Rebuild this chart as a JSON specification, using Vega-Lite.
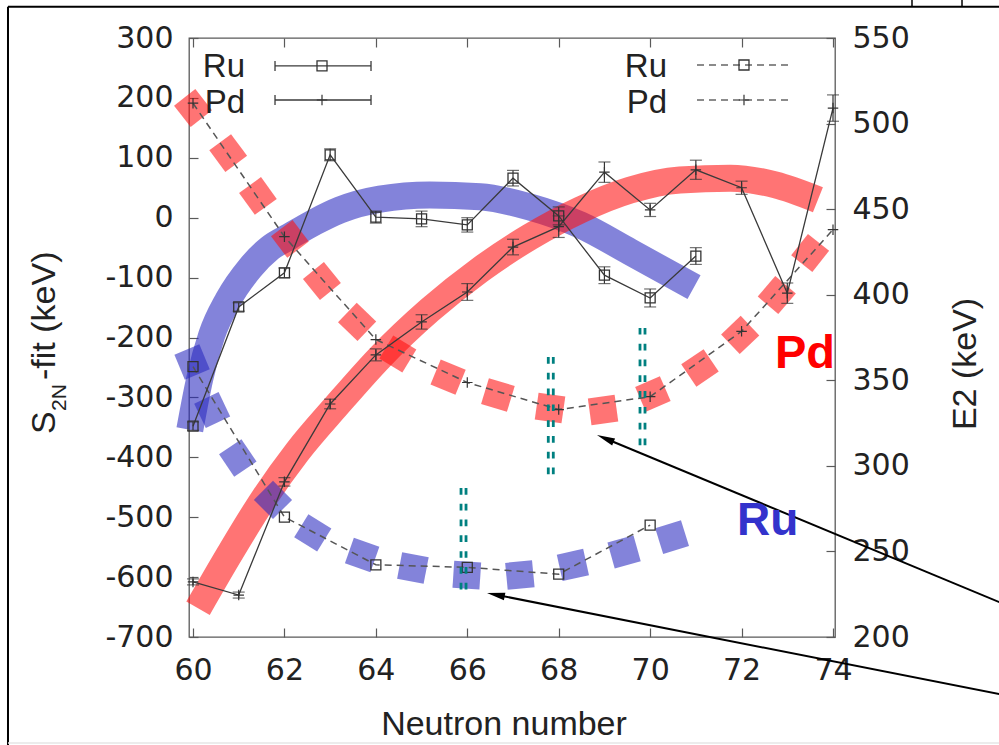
{
  "$schema": "https://vega.github.io/schema/vega-lite/v6.json",
  "width": 646,
  "height": 599,
  "autosize": {"type": "none"},
  "padding": {"left": 189, "top": 38, "right": 164, "bottom": 108},
  "background": "white",
  "config": {
    "view": {"stroke": "#5a5a5a", "strokeWidth": 1.3},
    "axis": {"grid": false, "domain": false, "tickColor": "#5a5a5a", "tickWidth": 1.2, "tickSize": -9, "labelFont": "DejaVu Sans", "labelFontSize": 30, "labelColor": "#222222", "labelFlush": false, "labelOverlap": false}
  },
  "data": {"values": [{}]},
  "datasets": {
    "s2n": [
      {"iso": "Ru", "N": 60, "S2N": -348, "err": 7},
      {"iso": "Ru", "N": 61, "S2N": -149, "err": 7},
      {"iso": "Ru", "N": 62, "S2N": -92, "err": 8},
      {"iso": "Ru", "N": 63, "S2N": 105, "err": 10},
      {"iso": "Ru", "N": 64, "S2N": 1, "err": 10},
      {"iso": "Ru", "N": 65, "S2N": -2, "err": 13},
      {"iso": "Ru", "N": 66, "S2N": -12, "err": 12},
      {"iso": "Ru", "N": 67, "S2N": 66, "err": 13},
      {"iso": "Ru", "N": 68, "S2N": 3, "err": 15},
      {"iso": "Ru", "N": 69, "S2N": -96, "err": 14},
      {"iso": "Ru", "N": 70, "S2N": -134, "err": 15},
      {"iso": "Ru", "N": 71, "S2N": -64, "err": 14},
      {"iso": "Pd", "N": 60, "S2N": -608, "err": 5},
      {"iso": "Pd", "N": 61, "S2N": -630, "err": 5},
      {"iso": "Pd", "N": 62, "S2N": -441, "err": 7},
      {"iso": "Pd", "N": 63, "S2N": -311, "err": 8},
      {"iso": "Pd", "N": 64, "S2N": -229, "err": 10},
      {"iso": "Pd", "N": 65, "S2N": -174, "err": 12},
      {"iso": "Pd", "N": 66, "S2N": -124, "err": 14},
      {"iso": "Pd", "N": 67, "S2N": -49, "err": 13},
      {"iso": "Pd", "N": 68, "S2N": -15, "err": 18},
      {"iso": "Pd", "N": 69, "S2N": 76, "err": 17},
      {"iso": "Pd", "N": 70, "S2N": 13, "err": 11},
      {"iso": "Pd", "N": 71, "S2N": 80, "err": 16},
      {"iso": "Pd", "N": 72, "S2N": 50, "err": 11},
      {"iso": "Pd", "N": 73, "S2N": -126, "err": 17},
      {"iso": "Pd", "N": 74, "S2N": 183, "err": 22}
    ],
    "e2": [
      {"iso": "Ru", "N": 60, "E2": 358.0},
      {"iso": "Ru", "N": 62, "E2": 270.1},
      {"iso": "Ru", "N": 64, "E2": 242.2},
      {"iso": "Ru", "N": 66, "E2": 240.7},
      {"iso": "Ru", "N": 68, "E2": 236.7},
      {"iso": "Ru", "N": 70, "E2": 265.4},
      {"iso": "Pd", "N": 60, "E2": 511.9},
      {"iso": "Pd", "N": 62, "E2": 433.9},
      {"iso": "Pd", "N": 64, "E2": 373.8},
      {"iso": "Pd", "N": 66, "E2": 348.7},
      {"iso": "Pd", "N": 68, "E2": 332.9},
      {"iso": "Pd", "N": 70, "E2": 340.4},
      {"iso": "Pd", "N": 72, "E2": 378.6},
      {"iso": "Pd", "N": 74, "E2": 438.0}
    ],
    "fits": [
      {"iso": "Ru", "N": 59.93, "S2N": -354},
      {"iso": "Ru", "N": 60.15, "S2N": -268},
      {"iso": "Ru", "N": 60.41, "S2N": -196},
      {"iso": "Ru", "N": 60.77, "S2N": -137},
      {"iso": "Ru", "N": 61.25, "S2N": -84},
      {"iso": "Ru", "N": 61.68, "S2N": -51},
      {"iso": "Ru", "N": 62.12, "S2N": -31},
      {"iso": "Ru", "N": 62.67, "S2N": -7},
      {"iso": "Ru", "N": 63.22, "S2N": 13},
      {"iso": "Ru", "N": 64.09, "S2N": 31},
      {"iso": "Ru", "N": 65.18, "S2N": 38},
      {"iso": "Ru", "N": 66.28, "S2N": 35},
      {"iso": "Ru", "N": 67.37, "S2N": 18},
      {"iso": "Ru", "N": 68.47, "S2N": -12},
      {"iso": "Ru", "N": 69.56, "S2N": -57},
      {"iso": "Ru", "N": 70.96, "S2N": -116},
      {"iso": "Pd", "N": 60.11, "S2N": -652},
      {"iso": "Pd", "N": 60.81, "S2N": -560},
      {"iso": "Pd", "N": 61.53, "S2N": -471},
      {"iso": "Pd", "N": 62.28, "S2N": -391},
      {"iso": "Pd", "N": 63.15, "S2N": -313},
      {"iso": "Pd", "N": 64.09, "S2N": -233},
      {"iso": "Pd", "N": 65.18, "S2N": -154},
      {"iso": "Pd", "N": 66.28, "S2N": -87},
      {"iso": "Pd", "N": 67.37, "S2N": -32},
      {"iso": "Pd", "N": 68.47, "S2N": 13},
      {"iso": "Pd", "N": 69.56, "S2N": 46},
      {"iso": "Pd", "N": 70.65, "S2N": 63},
      {"iso": "Pd", "N": 71.75, "S2N": 66},
      {"iso": "Pd", "N": 72.73, "S2N": 55},
      {"iso": "Pd", "N": 73.67, "S2N": 30}
    ],
    "e2fit": [
      {"iso": "Ru", "N": 59.98, "E2": 360.7},
      {"iso": "Ru", "N": 60.42, "E2": 332.6},
      {"iso": "Ru", "N": 60.98, "E2": 304.6},
      {"iso": "Ru", "N": 61.75, "E2": 280.1},
      {"iso": "Ru", "N": 62.62, "E2": 260.8},
      {"iso": "Ru", "N": 63.70, "E2": 247.9},
      {"iso": "Ru", "N": 64.81, "E2": 240.3},
      {"iso": "Ru", "N": 65.99, "E2": 236.2},
      {"iso": "Ru", "N": 67.15, "E2": 236.2},
      {"iso": "Ru", "N": 68.31, "E2": 242.1},
      {"iso": "Ru", "N": 69.43, "E2": 249.7},
      {"iso": "Ru", "N": 70.48, "E2": 258.4},
      {"iso": "Pd", "N": 60.00, "E2": 509.1},
      {"iso": "Pd", "N": 60.77, "E2": 482.8},
      {"iso": "Pd", "N": 61.42, "E2": 457.7},
      {"iso": "Pd", "N": 62.12, "E2": 432.6},
      {"iso": "Pd", "N": 62.82, "E2": 408.0},
      {"iso": "Pd", "N": 63.59, "E2": 384.1},
      {"iso": "Pd", "N": 64.48, "E2": 365.4},
      {"iso": "Pd", "N": 65.58, "E2": 351.9},
      {"iso": "Pd", "N": 66.67, "E2": 341.4},
      {"iso": "Pd", "N": 67.81, "E2": 333.8},
      {"iso": "Pd", "N": 68.97, "E2": 332.6},
      {"iso": "Pd", "N": 70.06, "E2": 342.0},
      {"iso": "Pd", "N": 71.09, "E2": 357.2},
      {"iso": "Pd", "N": 71.97, "E2": 376.5},
      {"iso": "Pd", "N": 72.77, "E2": 399.8},
      {"iso": "Pd", "N": 73.50, "E2": 424.4}
    ],
    "guides": [
      {"N": 65.863, "top": 287.1, "bottom": 226.9},
      {"N": 67.772, "top": 363.6, "bottom": 293.5},
      {"N": 69.778, "top": 380.6, "bottom": 310.4}
    ]
  },
  "resolve": {"scale": {"y": "independent"}, "axis": {"x": "independent", "y": "independent"}},
  "layer": [
    {
      "data": {"name": "fits"},
      "mark": {"type": "line", "strokeWidth": 27, "strokeOpacity": 0.58, "strokeCap": "butt", "interpolate": "monotone"},
      "encoding": {
        "x": {"field": "N", "type": "quantitative", "scale": {"domain": [59.9125, 74.0437], "nice": false, "zero": false},
              "axis": {"orient": "bottom", "values": [60, 62, 64, 66, 68, 70, 72, 74], "title": null, "labelPadding": 27, "labelExpr": "datum.value + ''"}},
        "y": {"field": "S2N", "type": "quantitative", "scale": {"domain": [-700, 300], "nice": false, "zero": false},
              "axis": {"orient": "left", "values": [-700, -600, -500, -400, -300, -200, -100, 0, 100, 200, 300], "title": null, "labelPadding": 25, "labelExpr": "datum.value + ''"}},
        "color": {"field": "iso", "type": "nominal", "scale": {"domain": ["Ru", "Pd"], "range": ["#2a2ac0", "#ff1010"]}, "legend": null},
        "detail": {"field": "iso"}
      }
    },
    {
      "data": {"name": "e2fit"},
      "transform": [
        {"window": [
          {"op": "lag", "field": "N", "as": "Np"},
          {"op": "lead", "field": "N", "as": "Nn"},
          {"op": "lag", "field": "E2", "as": "Ep"},
          {"op": "lead", "field": "E2", "as": "En"}
        ], "groupby": ["iso"], "sort": [{"field": "N"}]},
        {"calculate": "atan2(-((isValid(datum.En) ? datum.En : datum.E2) - (isValid(datum.Ep) ? datum.Ep : datum.E2)) * 1.7114, ((isValid(datum.Nn) ? datum.Nn : datum.N) - (isValid(datum.Np) ? datum.Np : datum.N)) * 45.714) * 180 / PI", "as": "tilt"}
      ],
      "mark": {"type": "point", "shape": "square", "filled": true, "opacity": 0.58, "size": 729, "strokeWidth": 0},
      "encoding": {
        "x": {"field": "N", "type": "quantitative", "scale": {"domain": [59.9125, 74.0437], "nice": false, "zero": false},
              "axis": {"orient": "top", "values": [60, 62, 64, 66, 68, 70, 72, 74], "title": null, "labels": false}},
        "y": {"field": "E2", "type": "quantitative", "scale": {"domain": [200, 550], "nice": false, "zero": false},
              "axis": {"orient": "right", "values": [200, 250, 300, 350, 400, 450, 500, 550], "title": null, "labelPadding": 26}},
        "color": {"field": "iso", "type": "nominal", "scale": {"domain": ["Ru", "Pd"], "range": ["#2a2ac0", "#ff1010"]}, "legend": null},
        "angle": {"field": "tilt", "type": "quantitative", "scale": null}
      }
    },
    {
      "data": {"name": "e2"},
      "mark": {"type": "line", "color": "#555555", "strokeWidth": 1.5, "strokeDash": [7, 5]},
      "encoding": {
        "x": {"field": "N", "type": "quantitative", "scale": {"domain": [59.9125, 74.0437], "nice": false, "zero": false}, "axis": null},
        "y": {"field": "E2", "type": "quantitative", "scale": {"domain": [200, 550], "nice": false, "zero": false}, "axis": null},
        "detail": {"field": "iso"}
      }
    },
    {
      "data": {"name": "e2"},
      "transform": [{"filter": "datum.iso === 'Ru'"}],
      "mark": {"type": "point", "shape": "square", "filled": false, "size": 100, "color": "#333333", "strokeWidth": 1.3, "opacity": 1},
      "encoding": {
        "x": {"field": "N", "type": "quantitative", "scale": {"domain": [59.9125, 74.0437], "nice": false, "zero": false}, "axis": null},
        "y": {"field": "E2", "type": "quantitative", "scale": {"domain": [200, 550], "nice": false, "zero": false}, "axis": null}
      }
    },
    {
      "data": {"name": "e2"},
      "transform": [{"filter": "datum.iso === 'Pd'"}],
      "mark": {"type": "point", "shape": "M-1,0L1,0M0,-1L0,1", "filled": false, "size": 110, "color": "#333333", "strokeWidth": 1.2, "opacity": 1},
      "encoding": {
        "x": {"field": "N", "type": "quantitative", "scale": {"domain": [59.9125, 74.0437], "nice": false, "zero": false}, "axis": null},
        "y": {"field": "E2", "type": "quantitative", "scale": {"domain": [200, 550], "nice": false, "zero": false}, "axis": null}
      }
    },
    {
      "data": {"name": "guides"},
      "mark": {"type": "rule", "color": "#008080", "strokeWidth": 2.8, "strokeDash": [6.7, 9.1]},
      "encoding": {
        "x": {"field": "N", "type": "quantitative", "scale": {"domain": [59.9125, 74.0437], "nice": false, "zero": false}, "axis": null},
        "y": {"field": "top", "type": "quantitative", "scale": {"domain": [200, 550], "nice": false, "zero": false}, "axis": null},
        "y2": {"field": "bottom"}
      }
    },
    {
      "data": {"name": "guides"},
      "mark": {"type": "rule", "color": "#008080", "strokeWidth": 2.8, "strokeDash": [6.7, 9.1], "xOffset": 5},
      "encoding": {
        "x": {"field": "N", "type": "quantitative", "scale": {"domain": [59.9125, 74.0437], "nice": false, "zero": false}, "axis": null},
        "y": {"field": "top", "type": "quantitative", "scale": {"domain": [200, 550], "nice": false, "zero": false}, "axis": null},
        "y2": {"field": "bottom"}
      }
    },
    {
      "data": {"name": "s2n"},
      "mark": {"type": "line", "color": "#3a3a3a", "strokeWidth": 1.3},
      "encoding": {
        "x": {"field": "N", "type": "quantitative", "scale": {"domain": [59.9125, 74.0437], "nice": false, "zero": false}, "axis": null},
        "y": {"field": "S2N", "type": "quantitative", "scale": {"domain": [-700, 300], "nice": false, "zero": false}, "axis": null},
        "detail": {"field": "iso"}
      }
    },
    {
      "data": {"name": "s2n"},
      "mark": {"type": "errorbar", "ticks": true, "size": 12, "thickness": 1.2, "color": "#333333"},
      "encoding": {
        "x": {"field": "N", "type": "quantitative", "scale": {"domain": [59.9125, 74.0437], "nice": false, "zero": false}, "axis": null},
        "y": {"field": "S2N", "type": "quantitative", "scale": {"domain": [-700, 300], "nice": false, "zero": false}, "axis": null},
        "yError": {"field": "err"}
      }
    },
    {
      "data": {"name": "s2n"},
      "transform": [{"filter": "datum.iso === 'Ru'"}],
      "mark": {"type": "point", "shape": "square", "filled": false, "size": 100, "color": "#333333", "strokeWidth": 1.3, "opacity": 1},
      "encoding": {
        "x": {"field": "N", "type": "quantitative", "scale": {"domain": [59.9125, 74.0437], "nice": false, "zero": false}, "axis": null},
        "y": {"field": "S2N", "type": "quantitative", "scale": {"domain": [-700, 300], "nice": false, "zero": false}, "axis": null}
      }
    },
    {
      "data": {"name": "s2n"},
      "transform": [{"filter": "datum.iso === 'Pd'"}],
      "mark": {"type": "point", "shape": "M-1,0L1,0M0,-1L0,1", "filled": false, "size": 110, "color": "#333333", "strokeWidth": 1.2, "opacity": 1},
      "encoding": {
        "x": {"field": "N", "type": "quantitative", "scale": {"domain": [59.9125, 74.0437], "nice": false, "zero": false}, "axis": null},
        "y": {"field": "S2N", "type": "quantitative", "scale": {"domain": [-700, 300], "nice": false, "zero": false}, "axis": null}
      }
    },
    {
      "mark": {"type": "rule", "color": "#000000", "strokeWidth": 2},
      "encoding": {
        "x": {"datum": 77.763, "type": "quantitative", "scale": {"domain": [59.9125, 74.0437], "nice": false, "zero": false}, "axis": null},
        "y": {"datum": -645.7, "type": "quantitative", "scale": {"domain": [-700, 300], "nice": false, "zero": false}, "axis": null},
        "x2": {"datum": 69.019}, "y2": {"datum": -368.6}
      }
    },
    {
      "mark": {"type": "rule", "color": "#000000", "strokeWidth": 2},
      "encoding": {
        "x": {"datum": 77.763, "type": "quantitative", "scale": {"domain": [59.9125, 74.0437], "nice": false, "zero": false}, "axis": null},
        "y": {"datum": -797.2, "type": "quantitative", "scale": {"domain": [-700, 300], "nice": false, "zero": false}, "axis": null},
        "x2": {"datum": 66.624}, "y2": {"datum": -629.4}
      }
    },
    {
      "mark": {"type": "point", "shape": "M0,-1L0.42,1L-0.42,1Z", "filled": true, "color": "#000000", "opacity": 1, "size": 324, "angle": 292.6},
      "encoding": {
        "x": {"datum": 69.019, "type": "quantitative", "scale": {"domain": [59.9125, 74.0437], "nice": false, "zero": false}, "axis": null},
        "y": {"datum": -368.6, "type": "quantitative", "scale": {"domain": [-700, 300], "nice": false, "zero": false}, "axis": null}
      }
    },
    {
      "mark": {"type": "point", "shape": "M0,-1L0.42,1L-0.42,1Z", "filled": true, "color": "#000000", "opacity": 1, "size": 324, "angle": 281.2},
      "encoding": {
        "x": {"datum": 66.624, "type": "quantitative", "scale": {"domain": [59.9125, 74.0437], "nice": false, "zero": false}, "axis": null},
        "y": {"datum": -629.4, "type": "quantitative", "scale": {"domain": [-700, 300], "nice": false, "zero": false}, "axis": null}
      }
    },
    {
      "mark": {"type": "text", "text": "Pd", "font": "Liberation Sans", "fontSize": 47, "fontWeight": "bold", "color": "#ff0000", "align": "left", "baseline": "alphabetic"},
      "encoding": {
        "x": {"datum": 72.731, "type": "quantitative", "scale": {"domain": [59.9125, 74.0437], "nice": false, "zero": false}, "axis": null},
        "y": {"datum": -250.9, "type": "quantitative", "scale": {"domain": [-700, 300], "nice": false, "zero": false}, "axis": null}
      }
    },
    {
      "mark": {"type": "text", "text": "Ru", "font": "Liberation Sans", "fontSize": 46, "fontWeight": "bold", "color": "#3333cc", "align": "left", "baseline": "alphabetic"},
      "encoding": {
        "x": {"datum": 71.9, "type": "quantitative", "scale": {"domain": [59.9125, 74.0437], "nice": false, "zero": false}, "axis": null},
        "y": {"datum": -529.7, "type": "quantitative", "scale": {"domain": [-700, 300], "nice": false, "zero": false}, "axis": null}
      }
    },
    {
      "mark": {"type": "text", "text": "Neutron number", "font": "Liberation Sans", "fontSize": 34, "color": "#222222", "align": "center", "baseline": "alphabetic"},
      "encoding": {
        "x": {"datum": 66.803, "type": "quantitative", "scale": {"domain": [59.9125, 74.0437], "nice": false, "zero": false}, "axis": null},
        "y": {"datum": -863.6, "type": "quantitative", "scale": {"domain": [-700, 300], "nice": false, "zero": false}, "axis": null}
      }
    },
    {
      "mark": {"type": "text", "text": "E2 (keV)", "font": "Liberation Sans", "fontSize": 34, "color": "#222222", "align": "center", "baseline": "alphabetic", "angle": 270},
      "encoding": {
        "x": {"datum": 77.128, "type": "quantitative", "scale": {"domain": [59.9125, 74.0437], "nice": false, "zero": false}, "axis": null},
        "y": {"datum": -244.2, "type": "quantitative", "scale": {"domain": [-700, 300], "nice": false, "zero": false}, "axis": null}
      }
    },
    {
      "mark": {"type": "text", "text": "S", "font": "Liberation Sans", "fontSize": 34, "color": "#222222", "align": "left", "baseline": "alphabetic", "angle": 270},
      "encoding": {
        "x": {"datum": 56.981, "type": "quantitative", "scale": {"domain": [59.9125, 74.0437], "nice": false, "zero": false}, "axis": null},
        "y": {"datum": -361.1, "type": "quantitative", "scale": {"domain": [-700, 300], "nice": false, "zero": false}, "axis": null}
      }
    },
    {
      "mark": {"type": "text", "text": "2N", "font": "Liberation Sans", "fontSize": 21, "color": "#222222", "align": "left", "baseline": "alphabetic", "angle": 270},
      "encoding": {
        "x": {"datum": 57.222, "type": "quantitative", "scale": {"domain": [59.9125, 74.0437], "nice": false, "zero": false}, "axis": null},
        "y": {"datum": -322.7, "type": "quantitative", "scale": {"domain": [-700, 300], "nice": false, "zero": false}, "axis": null}
      }
    },
    {
      "mark": {"type": "text", "text": "-fit (keV)", "font": "Liberation Sans", "fontSize": 34, "color": "#222222", "align": "left", "baseline": "alphabetic", "angle": 270},
      "encoding": {
        "x": {"datum": 56.981, "type": "quantitative", "scale": {"domain": [59.9125, 74.0437], "nice": false, "zero": false}, "axis": null},
        "y": {"datum": -270.9, "type": "quantitative", "scale": {"domain": [-700, 300], "nice": false, "zero": false}, "axis": null}
      }
    },
    {
      "mark": {"type": "text", "text": "Ru", "font": "Liberation Sans", "fontSize": 33, "color": "#222222", "align": "right", "baseline": "alphabetic"},
      "encoding": {
        "x": {"datum": 61.1375, "type": "quantitative", "scale": {"domain": [59.9125, 74.0437], "nice": false, "zero": false}, "axis": null},
        "y": {"datum": 234.1, "type": "quantitative", "scale": {"domain": [-700, 300], "nice": false, "zero": false}, "axis": null}
      }
    },
    {
      "mark": {"type": "text", "text": "Pd", "font": "Liberation Sans", "fontSize": 33, "color": "#222222", "align": "right", "baseline": "alphabetic"},
      "encoding": {
        "x": {"datum": 61.1375, "type": "quantitative", "scale": {"domain": [59.9125, 74.0437], "nice": false, "zero": false}, "axis": null},
        "y": {"datum": 174.8, "type": "quantitative", "scale": {"domain": [-700, 300], "nice": false, "zero": false}, "axis": null}
      }
    },
    {
      "mark": {"type": "text", "text": "Ru", "font": "Liberation Sans", "fontSize": 33, "color": "#222222", "align": "right", "baseline": "alphabetic"},
      "encoding": {
        "x": {"datum": 70.369, "type": "quantitative", "scale": {"domain": [59.9125, 74.0437], "nice": false, "zero": false}, "axis": null},
        "y": {"datum": 234.1, "type": "quantitative", "scale": {"domain": [-700, 300], "nice": false, "zero": false}, "axis": null}
      }
    },
    {
      "mark": {"type": "text", "text": "Pd", "font": "Liberation Sans", "fontSize": 33, "color": "#222222", "align": "right", "baseline": "alphabetic"},
      "encoding": {
        "x": {"datum": 70.369, "type": "quantitative", "scale": {"domain": [59.9125, 74.0437], "nice": false, "zero": false}, "axis": null},
        "y": {"datum": 174.8, "type": "quantitative", "scale": {"domain": [-700, 300], "nice": false, "zero": false}, "axis": null}
      }
    },
    {
      "mark": {"type": "rule", "color": "#3a3a3a", "strokeWidth": 1.3},
      "encoding": {
        "x": {"datum": 61.794, "type": "quantitative", "scale": {"domain": [59.9125, 74.0437], "nice": false, "zero": false}, "axis": null},
        "y": {"datum": 253.3, "type": "quantitative", "scale": {"domain": [-700, 300], "nice": false, "zero": false}, "axis": null},
        "x2": {"datum": 63.894}, "y2": {"datum": 253.3}
      }
    },
    {
      "mark": {"type": "rule", "color": "#3a3a3a", "strokeWidth": 1.3},
      "encoding": {
        "x": {"datum": 61.794, "type": "quantitative", "scale": {"domain": [59.9125, 74.0437], "nice": false, "zero": false}, "axis": null},
        "y": {"datum": 196.5, "type": "quantitative", "scale": {"domain": [-700, 300], "nice": false, "zero": false}, "axis": null},
        "x2": {"datum": 63.894}, "y2": {"datum": 196.5}
      }
    },
    {
      "mark": {"type": "rule", "color": "#3a3a3a", "strokeWidth": 1.3},
      "encoding": {
        "x": {"datum": 61.794, "type": "quantitative", "scale": {"domain": [59.9125, 74.0437], "nice": false, "zero": false}, "axis": null},
        "y": {"datum": 261.6, "type": "quantitative", "scale": {"domain": [-700, 300], "nice": false, "zero": false}, "axis": null},
        "y2": {"datum": 244.9}
      }
    },
    {
      "mark": {"type": "rule", "color": "#3a3a3a", "strokeWidth": 1.3},
      "encoding": {
        "x": {"datum": 63.894, "type": "quantitative", "scale": {"domain": [59.9125, 74.0437], "nice": false, "zero": false}, "axis": null},
        "y": {"datum": 261.6, "type": "quantitative", "scale": {"domain": [-700, 300], "nice": false, "zero": false}, "axis": null},
        "y2": {"datum": 244.9}
      }
    },
    {
      "mark": {"type": "rule", "color": "#3a3a3a", "strokeWidth": 1.3},
      "encoding": {
        "x": {"datum": 61.794, "type": "quantitative", "scale": {"domain": [59.9125, 74.0437], "nice": false, "zero": false}, "axis": null},
        "y": {"datum": 204.8, "type": "quantitative", "scale": {"domain": [-700, 300], "nice": false, "zero": false}, "axis": null},
        "y2": {"datum": 188.1}
      }
    },
    {
      "mark": {"type": "rule", "color": "#3a3a3a", "strokeWidth": 1.3},
      "encoding": {
        "x": {"datum": 63.894, "type": "quantitative", "scale": {"domain": [59.9125, 74.0437], "nice": false, "zero": false}, "axis": null},
        "y": {"datum": 204.8, "type": "quantitative", "scale": {"domain": [-700, 300], "nice": false, "zero": false}, "axis": null},
        "y2": {"datum": 188.1}
      }
    },
    {
      "mark": {"type": "point", "shape": "square", "filled": false, "size": 100, "color": "#333333", "strokeWidth": 1.3, "opacity": 1},
      "encoding": {
        "x": {"datum": 62.822, "type": "quantitative", "scale": {"domain": [59.9125, 74.0437], "nice": false, "zero": false}, "axis": null},
        "y": {"datum": 253.3, "type": "quantitative", "scale": {"domain": [-700, 300], "nice": false, "zero": false}, "axis": null}
      }
    },
    {
      "mark": {"type": "point", "shape": "M-1,0L1,0M0,-1L0,1", "filled": false, "size": 110, "color": "#333333", "strokeWidth": 1.2, "opacity": 1},
      "encoding": {
        "x": {"datum": 62.822, "type": "quantitative", "scale": {"domain": [59.9125, 74.0437], "nice": false, "zero": false}, "axis": null},
        "y": {"datum": 196.5, "type": "quantitative", "scale": {"domain": [-700, 300], "nice": false, "zero": false}, "axis": null}
      }
    },
    {
      "mark": {"type": "rule", "color": "#666666", "strokeWidth": 1.5, "strokeDash": [7, 5]},
      "encoding": {
        "x": {"datum": 71.025, "type": "quantitative", "scale": {"domain": [59.9125, 74.0437], "nice": false, "zero": false}, "axis": null},
        "y": {"datum": 254.9, "type": "quantitative", "scale": {"domain": [-700, 300], "nice": false, "zero": false}, "axis": null},
        "x2": {"datum": 73.125}, "y2": {"datum": 254.9}
      }
    },
    {
      "mark": {"type": "rule", "color": "#666666", "strokeWidth": 1.5, "strokeDash": [7, 5]},
      "encoding": {
        "x": {"datum": 71.025, "type": "quantitative", "scale": {"domain": [59.9125, 74.0437], "nice": false, "zero": false}, "axis": null},
        "y": {"datum": 196.5, "type": "quantitative", "scale": {"domain": [-700, 300], "nice": false, "zero": false}, "axis": null},
        "x2": {"datum": 73.125}, "y2": {"datum": 196.5}
      }
    },
    {
      "mark": {"type": "point", "shape": "square", "filled": false, "size": 100, "color": "#333333", "strokeWidth": 1.3, "opacity": 1},
      "encoding": {
        "x": {"datum": 72.053, "type": "quantitative", "scale": {"domain": [59.9125, 74.0437], "nice": false, "zero": false}, "axis": null},
        "y": {"datum": 254.9, "type": "quantitative", "scale": {"domain": [-700, 300], "nice": false, "zero": false}, "axis": null}
      }
    },
    {
      "mark": {"type": "point", "shape": "M-1,0L1,0M0,-1L0,1", "filled": false, "size": 110, "color": "#333333", "strokeWidth": 1.2, "opacity": 1},
      "encoding": {
        "x": {"datum": 72.053, "type": "quantitative", "scale": {"domain": [59.9125, 74.0437], "nice": false, "zero": false}, "axis": null},
        "y": {"datum": 196.5, "type": "quantitative", "scale": {"domain": [-700, 300], "nice": false, "zero": false}, "axis": null}
      }
    },
    {
      "mark": {"type": "rule", "color": "#000000", "strokeWidth": 2},
      "encoding": {
        "x": {"datum": 55.953, "type": "quantitative", "scale": {"domain": [59.9125, 74.0437], "nice": false, "zero": false}, "axis": null},
        "y": {"datum": 352.3, "type": "quantitative", "scale": {"domain": [-700, 300], "nice": false, "zero": false}, "axis": null},
        "x2": {"datum": 78.0}, "y2": {"datum": 352.3}
      }
    },
    {
      "mark": {"type": "rule", "color": "#000000", "strokeWidth": 2},
      "encoding": {
        "x": {"datum": 55.953, "type": "quantitative", "scale": {"domain": [59.9125, 74.0437], "nice": false, "zero": false}, "axis": null},
        "y": {"datum": 352.3, "type": "quantitative", "scale": {"domain": [-700, 300], "nice": false, "zero": false}, "axis": null},
        "y2": {"datum": -880.3}
      }
    },
    {
      "mark": {"type": "rule", "color": "#000000", "strokeWidth": 1.5},
      "encoding": {
        "x": {"datum": 75.728, "type": "quantitative", "scale": {"domain": [59.9125, 74.0437], "nice": false, "zero": false}, "axis": null},
        "y": {"datum": 363.4, "type": "quantitative", "scale": {"domain": [-700, 300], "nice": false, "zero": false}, "axis": null},
        "y2": {"datum": 352.3}
      }
    },
    {
      "mark": {"type": "rule", "color": "#000000", "strokeWidth": 1.5},
      "encoding": {
        "x": {"datum": 76.822, "type": "quantitative", "scale": {"domain": [59.9125, 74.0437], "nice": false, "zero": false}, "axis": null},
        "y": {"datum": 363.4, "type": "quantitative", "scale": {"domain": [-700, 300], "nice": false, "zero": false}, "axis": null},
        "y2": {"datum": 352.3}
      }
    },
    {
      "mark": {"type": "rule", "color": "#e6e6e6", "strokeWidth": 1.5},
      "encoding": {
        "x": {"datum": 55.953, "type": "quantitative", "scale": {"domain": [59.9125, 74.0437], "nice": false, "zero": false}, "axis": null},
        "y": {"datum": -877.0, "type": "quantitative", "scale": {"domain": [-700, 300], "nice": false, "zero": false}, "axis": null},
        "x2": {"datum": 78.0}, "y2": {"datum": -877.0}
      }
    }
  ]
}
